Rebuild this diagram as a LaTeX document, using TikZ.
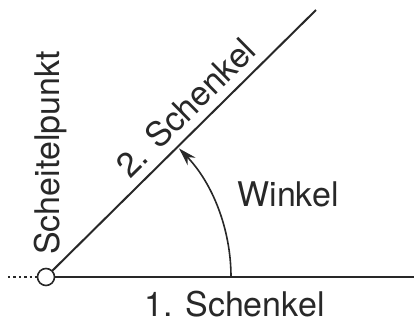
\documentclass[tikz,border=0pt]{standalone}
\usepackage{fontspec}
\setmainfont{TeX Gyre Heros}
\usepackage{tikz}
\usetikzlibrary{arrows.meta,positioning,calc}
\definecolor{inkline}{RGB}{40, 40, 40}

\begin{document}
\begin{tikzpicture}[
    x=0.5pt, y=0.5pt,
    >={Stealth[length=9pt,width=5.5pt]},
    leg/.style={draw=inkline, line width=1pt},
    vertex/.style={circle, draw=inkline, line width=0.8pt, fill=white, minimum size=8.5pt, inner sep=0pt},
    label/.style={font=\fontsize{17}{20}\selectfont, text=inkline, inner sep=0pt},
    arrow/.style={->, draw=inkline, line width=0.8pt}
]
    \useasboundingbox (0,0) rectangle (414,322);

    % Vertex and leg end points
    \coordinate (origin) at (46,45);
    \coordinate (dotstart) at (8,45);
    \coordinate (end1) at (414,45);
    \coordinate (end2) at (316,312);

    % Legs
    \draw[leg, line width=0.7pt, dash pattern=on 1.2pt off 1.5pt] (dotstart) -- (origin);
    \draw[leg] (origin) -- (end1);
    \draw[leg] (origin) -- node[label, sloped, pos=0.575, anchor=base, yshift=5] {2. Schenkel} (end2);
    \node[vertex] (scheitel) at (origin) {};

    % Angle arc
    \coordinate (arcstart) at ($(origin)+(185,0)$);
    \draw[arrow] (arcstart) arc[start angle=0, end angle=44, radius=185];

    % Labels
    \node[label, anchor=base west] (winkel) at (237,115) {Winkel};
    \node[label, anchor=base east] (schenkel1) at (325,5) {1. Schenkel};
    \node[label, rotate=90, anchor=base] (scheitellabel) at (59,169) {Scheitelpunkt};

\end{tikzpicture}
\end{document}
